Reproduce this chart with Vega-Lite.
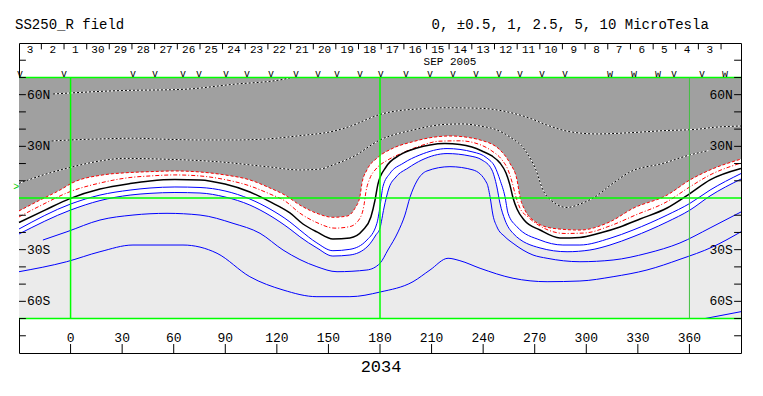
{
 "$schema": "https://vega.github.io/schema/vega-lite/v6.json",
 "width": 722, "height": 310,
 "autosize": {"type": "none"},
 "padding": {"left": 19, "top": 43, "right": 22, "bottom": 43},
 "background": "white",
 "config": {"view": {"stroke": "black", "strokeWidth": 1}, "text": {"font": "Liberation Mono", "color": "black"}},
 "datasets": {
  "plotbox": [{"lon": -30, "lon2": 390, "lat": -70, "lat2": 70}],
  "contours": [
   {"line":"B0","kind":"zero","lon":-30,"lat":-14.2},{"line":"B0","kind":"zero","lon":-14.9,"lat":-7.0},{"line":"B0","kind":"zero","lon":0,"lat":-0.2},{"line":"B0","kind":"zero","lon":17.1,"lat":5.2},{"line":"B0","kind":"zero","lon":34.6,"lat":8.4},{"line":"B0","kind":"zero","lon":46.2,"lat":9.9},{"line":"B0","kind":"zero","lon":60.7,"lat":10.7},{"line":"B0","kind":"zero","lon":75.3,"lat":10.5},{"line":"B0","kind":"zero","lon":89.8,"lat":8.1},{"line":"B0","kind":"zero","lon":104.3,"lat":3.5},{"line":"B0","kind":"zero","lon":114.2,"lat":-1.2},{"line":"B0","kind":"zero","lon":121.8,"lat":-5.2},{"line":"B0","kind":"zero","lon":127.6,"lat":-8.7},{"line":"B0","kind":"zero","lon":135.2,"lat":-15.1},{"line":"B0","kind":"zero","lon":143.3,"lat":-19.7},{"line":"B0","kind":"zero","lon":152.6,"lat":-23.8},{"line":"B0","kind":"zero","lon":162.5,"lat":-23.2},{"line":"B0","kind":"zero","lon":170.1,"lat":-18.6},{"line":"B0","kind":"zero","lon":174.7,"lat":-11.0},{"line":"B0","kind":"zero","lon":177.1,"lat":-1.2},{"line":"B0","kind":"zero","lon":178.8,"lat":8.1},{"line":"B0","kind":"zero","lon":183.5,"lat":18.0},{"line":"B0","kind":"zero","lon":191.6,"lat":25.0},{"line":"B0","kind":"zero","lon":201.5,"lat":29.0},{"line":"B0","kind":"zero","lon":209.1,"lat":30.8},{"line":"B0","kind":"zero","lon":217.8,"lat":31.6},{"line":"B0","kind":"zero","lon":226.5,"lat":31.1},{"line":"B0","kind":"zero","lon":233.5,"lat":29.6},{"line":"B0","kind":"zero","lon":239.3,"lat":27.3},{"line":"B0","kind":"zero","lon":245.1,"lat":24.4},{"line":"B0","kind":"zero","lon":249.8,"lat":20.3},{"line":"B0","kind":"zero","lon":253.3,"lat":14.5},{"line":"B0","kind":"zero","lon":255.6,"lat":7.5},{"line":"B0","kind":"zero","lon":257.4,"lat":0},{"line":"B0","kind":"zero","lon":259.7,"lat":-6.4},{"line":"B0","kind":"zero","lon":263.8,"lat":-12.8},{"line":"B0","kind":"zero","lon":273.1,"lat":-18.6},{"line":"B0","kind":"zero","lon":284.7,"lat":-23.2},{"line":"B0","kind":"zero","lon":296.3,"lat":-22.9},{"line":"B0","kind":"zero","lon":308.0,"lat":-20.3},{"line":"B0","kind":"zero","lon":319.6,"lat":-16.8},{"line":"B0","kind":"zero","lon":331.3,"lat":-12.2},{"line":"B0","kind":"zero","lon":347.0,"lat":-5.8},{"line":"B0","kind":"zero","lon":360.3,"lat":2.6},{"line":"B0","kind":"zero","lon":372.0,"lat":10.5},{"line":"B0","kind":"zero","lon":390,"lat":17.1},
   {"line":"R1","kind":"r1","lon":-30,"lat":-7.5},{"line":"R1","kind":"r1","lon":-17.8,"lat":-1.2},{"line":"R1","kind":"r1","lon":-6.2,"lat":4.6},{"line":"R1","kind":"r1","lon":1.4,"lat":9.0},{"line":"R1","kind":"r1","lon":18.8,"lat":13.4},{"line":"R1","kind":"r1","lon":32.8,"lat":14.7},{"line":"R1","kind":"r1","lon":46.2,"lat":15.3},{"line":"R1","kind":"r1","lon":60.7,"lat":15.7},{"line":"R1","kind":"r1","lon":75.3,"lat":15.1},{"line":"R1","kind":"r1","lon":89.8,"lat":13.4},{"line":"R1","kind":"r1","lon":104.3,"lat":10.5},{"line":"R1","kind":"r1","lon":116.0,"lat":5.8},{"line":"R1","kind":"r1","lon":124.7,"lat":1.7},{"line":"R1","kind":"r1","lon":133.4,"lat":-4.1},{"line":"R1","kind":"r1","lon":143.3,"lat":-8.9},{"line":"R1","kind":"r1","lon":152.6,"lat":-11.2},{"line":"R1","kind":"r1","lon":160.8,"lat":-10.5},{"line":"R1","kind":"r1","lon":165.4,"lat":-6.0},{"line":"R1","kind":"r1","lon":168.3,"lat":0.8},{"line":"R1","kind":"r1","lon":169.5,"lat":8.5},{"line":"R1","kind":"r1","lon":172.4,"lat":16.3},{"line":"R1","kind":"r1","lon":178.2,"lat":23.1},{"line":"R1","kind":"r1","lon":187.5,"lat":28.9},{"line":"R1","kind":"r1","lon":199.2,"lat":32.7},{"line":"R1","kind":"r1","lon":209.1,"lat":35.0},{"line":"R1","kind":"r1","lon":220.7,"lat":36.0},{"line":"R1","kind":"r1","lon":232.3,"lat":35.0},{"line":"R1","kind":"r1","lon":238.2,"lat":33.7},{"line":"R1","kind":"r1","lon":249.8,"lat":27.9},{"line":"R1","kind":"r1","lon":255.6,"lat":20.1},{"line":"R1","kind":"r1","lon":259.7,"lat":10.5},{"line":"R1","kind":"r1","lon":261.4,"lat":0.8},{"line":"R1","kind":"r1","lon":264.3,"lat":-7.0},{"line":"R1","kind":"r1","lon":269.0,"lat":-12.8},{"line":"R1","kind":"r1","lon":280.6,"lat":-17.6},{"line":"R1","kind":"r1","lon":296.3,"lat":-18.6},{"line":"R1","kind":"r1","lon":313.8,"lat":-13.8},{"line":"R1","kind":"r1","lon":327.2,"lat":-6.0},{"line":"R1","kind":"r1","lon":347.0,"lat":1.7},{"line":"R1","kind":"r1","lon":360.3,"lat":10.5},{"line":"R1","kind":"r1","lon":372.0,"lat":16.3},{"line":"R1","kind":"r1","lon":390,"lat":22.6},
   {"line":"R05","kind":"r05","lon":-30,"lat":-11.0},{"line":"R05","kind":"r05","lon":-17.8,"lat":-4.6},{"line":"R05","kind":"r05","lon":0,"lat":3.8},{"line":"R05","kind":"r05","lon":17.1,"lat":8.7},{"line":"R05","kind":"r05","lon":34.6,"lat":11.9},{"line":"R05","kind":"r05","lon":46.2,"lat":12.8},{"line":"R05","kind":"r05","lon":60.7,"lat":13.4},{"line":"R05","kind":"r05","lon":75.3,"lat":12.8},{"line":"R05","kind":"r05","lon":89.8,"lat":10.7},{"line":"R05","kind":"r05","lon":104.3,"lat":7.0},{"line":"R05","kind":"r05","lon":116.0,"lat":2.3},{"line":"R05","kind":"r05","lon":124.7,"lat":-1.7},{"line":"R05","kind":"r05","lon":133.4,"lat":-8.8},{"line":"R05","kind":"r05","lon":143.3,"lat":-14.3},{"line":"R05","kind":"r05","lon":153.8,"lat":-17.5},{"line":"R05","kind":"r05","lon":162.5,"lat":-16.6},{"line":"R05","kind":"r05","lon":168.3,"lat":-11.8},{"line":"R05","kind":"r05","lon":170.7,"lat":-4.1},{"line":"R05","kind":"r05","lon":171.8,"lat":3.5},{"line":"R05","kind":"r05","lon":174.2,"lat":11.6},{"line":"R05","kind":"r05","lon":177.6,"lat":16.8},{"line":"R05","kind":"r05","lon":184.6,"lat":22.1},{"line":"R05","kind":"r05","lon":193.4,"lat":26.3},{"line":"R05","kind":"r05","lon":203.2,"lat":30.2},{"line":"R05","kind":"r05","lon":214.9,"lat":33.0},{"line":"R05","kind":"r05","lon":226.5,"lat":33.2},{"line":"R05","kind":"r05","lon":237.0,"lat":31.4},{"line":"R05","kind":"r05","lon":245.1,"lat":27.3},{"line":"R05","kind":"r05","lon":251.0,"lat":22.1},{"line":"R05","kind":"r05","lon":254.5,"lat":16.3},{"line":"R05","kind":"r05","lon":256.8,"lat":9.3},{"line":"R05","kind":"r05","lon":259.1,"lat":0.6},{"line":"R05","kind":"r05","lon":261.4,"lat":-5.8},{"line":"R05","kind":"r05","lon":266.1,"lat":-11.0},{"line":"R05","kind":"r05","lon":276.0,"lat":-17.8},{"line":"R05","kind":"r05","lon":287.6,"lat":-20.6},{"line":"R05","kind":"r05","lon":299.3,"lat":-20.3},{"line":"R05","kind":"r05","lon":313.8,"lat":-16.2},{"line":"R05","kind":"r05","lon":328.4,"lat":-10.0},{"line":"R05","kind":"r05","lon":347.0,"lat":-2.1},{"line":"R05","kind":"r05","lon":360.3,"lat":6.5},{"line":"R05","kind":"r05","lon":372.0,"lat":13.4},{"line":"R05","kind":"r05","lon":390,"lat":20.3},
   {"line":"N05","kind":"neg","lon":-30,"lat":-18.0},{"line":"N05","kind":"neg","lon":0,"lat":-3.5},{"line":"N05","kind":"neg","lon":17.1,"lat":1.7},{"line":"N05","kind":"neg","lon":34.6,"lat":4.6},{"line":"N05","kind":"neg","lon":46.2,"lat":5.8},{"line":"N05","kind":"neg","lon":60.7,"lat":6.4},{"line":"N05","kind":"neg","lon":75.3,"lat":6.1},{"line":"N05","kind":"neg","lon":89.8,"lat":4.1},{"line":"N05","kind":"neg","lon":104.3,"lat":-0.6},{"line":"N05","kind":"neg","lon":116.0,"lat":-6.4},{"line":"N05","kind":"neg","lon":127.6,"lat":-13.9},{"line":"N05","kind":"neg","lon":133.4,"lat":-18.6},{"line":"N05","kind":"neg","lon":143.3,"lat":-26.1},{"line":"N05","kind":"neg","lon":152.6,"lat":-30.6},{"line":"N05","kind":"neg","lon":162.5,"lat":-29.8},{"line":"N05","kind":"neg","lon":172.4,"lat":-24.4},{"line":"N05","kind":"neg","lon":178.2,"lat":-14.7},{"line":"N05","kind":"neg","lon":180.0,"lat":-5.1},{"line":"N05","kind":"neg","lon":181.7,"lat":6.6},{"line":"N05","kind":"neg","lon":185.8,"lat":14.3},{"line":"N05","kind":"neg","lon":193.4,"lat":20.1},{"line":"N05","kind":"neg","lon":203.2,"lat":25.0},{"line":"N05","kind":"neg","lon":219.0,"lat":28.7},{"line":"N05","kind":"neg","lon":234.1,"lat":26.7},{"line":"N05","kind":"neg","lon":242.2,"lat":23.2},{"line":"N05","kind":"neg","lon":246.9,"lat":18.0},{"line":"N05","kind":"neg","lon":249.8,"lat":10.5},{"line":"N05","kind":"neg","lon":252.7,"lat":0.8},{"line":"N05","kind":"neg","lon":254.5,"lat":-8.9},{"line":"N05","kind":"neg","lon":259.7,"lat":-16.7},{"line":"N05","kind":"neg","lon":273.1,"lat":-24.4},{"line":"N05","kind":"neg","lon":286.4,"lat":-27.3},{"line":"N05","kind":"neg","lon":296.3,"lat":-27.3},{"line":"N05","kind":"neg","lon":313.8,"lat":-23.4},{"line":"N05","kind":"neg","lon":327.2,"lat":-18.6},{"line":"N05","kind":"neg","lon":347.0,"lat":-9.9},{"line":"N05","kind":"neg","lon":360.3,"lat":-3.1},{"line":"N05","kind":"neg","lon":372.0,"lat":4.6},{"line":"N05","kind":"neg","lon":390,"lat":14.2},
   {"line":"N1","kind":"neg","lon":-30,"lat":-20.9},{"line":"N1","kind":"neg","lon":0,"lat":-7.0},{"line":"N1","kind":"neg","lon":17.1,"lat":-1.5},{"line":"N1","kind":"neg","lon":34.6,"lat":1.7},{"line":"N1","kind":"neg","lon":46.2,"lat":2.7},{"line":"N1","kind":"neg","lon":60.7,"lat":3.2},{"line":"N1","kind":"neg","lon":75.3,"lat":2.9},{"line":"N1","kind":"neg","lon":89.8,"lat":0.6},{"line":"N1","kind":"neg","lon":104.3,"lat":-4.1},{"line":"N1","kind":"neg","lon":116.0,"lat":-10.2},{"line":"N1","kind":"neg","lon":127.6,"lat":-18.0},{"line":"N1","kind":"neg","lon":133.4,"lat":-22.5},{"line":"N1","kind":"neg","lon":143.3,"lat":-29.0},{"line":"N1","kind":"neg","lon":152.6,"lat":-33.7},{"line":"N1","kind":"neg","lon":162.5,"lat":-33.1},{"line":"N1","kind":"neg","lon":173.0,"lat":-27.9},{"line":"N1","kind":"neg","lon":177.6,"lat":-21.5},{"line":"N1","kind":"neg","lon":180.0,"lat":-17.4},{"line":"N1","kind":"neg","lon":182.3,"lat":-5.8},{"line":"N1","kind":"neg","lon":185.2,"lat":5.8},{"line":"N1","kind":"neg","lon":189.3,"lat":12.2},{"line":"N1","kind":"neg","lon":196.3,"lat":17.4},{"line":"N1","kind":"neg","lon":204.4,"lat":22.1},{"line":"N1","kind":"neg","lon":219.0,"lat":25.8},{"line":"N1","kind":"neg","lon":232.3,"lat":24.4},{"line":"N1","kind":"neg","lon":239.3,"lat":22.1},{"line":"N1","kind":"neg","lon":245.1,"lat":16.3},{"line":"N1","kind":"neg","lon":248.0,"lat":6.4},{"line":"N1","kind":"neg","lon":249.8,"lat":-3.1},{"line":"N1","kind":"neg","lon":252.7,"lat":-12.8},{"line":"N1","kind":"neg","lon":257.4,"lat":-20.5},{"line":"N1","kind":"neg","lon":273.1,"lat":-29.0},{"line":"N1","kind":"neg","lon":288.8,"lat":-31.2},{"line":"N1","kind":"neg","lon":302.1,"lat":-30.2},{"line":"N1","kind":"neg","lon":313.8,"lat":-27.3},{"line":"N1","kind":"neg","lon":327.2,"lat":-22.5},{"line":"N1","kind":"neg","lon":347.0,"lat":-13.9},{"line":"N1","kind":"neg","lon":360.3,"lat":-7.0},{"line":"N1","kind":"neg","lon":372.0,"lat":1.2},{"line":"N1","kind":"neg","lon":390,"lat":11.0},
   {"line":"A","kind":"neg","lon":-16.1,"lat":-24.4},{"line":"A","kind":"neg","lon":-2.1,"lat":-19.6},{"line":"A","kind":"neg","lon":17.1,"lat":-12.8},{"line":"A","kind":"neg","lon":36.3,"lat":-9.9},{"line":"A","kind":"neg","lon":56.1,"lat":-8.9},{"line":"A","kind":"neg","lon":75.3,"lat":-9.9},{"line":"A","kind":"neg","lon":94.5,"lat":-14.7},{"line":"A","kind":"neg","lon":110.2,"lat":-20.5},{"line":"A","kind":"neg","lon":123.6,"lat":-30.2},{"line":"A","kind":"neg","lon":143.3,"lat":-39.9},{"line":"A","kind":"neg","lon":155.0,"lat":-42.8},{"line":"A","kind":"neg","lon":172.4,"lat":-41.8},{"line":"A","kind":"neg","lon":180.0,"lat":-37.9},{"line":"A","kind":"neg","lon":184.6,"lat":-30.2},{"line":"A","kind":"neg","lon":190.5,"lat":-19.7},{"line":"A","kind":"neg","lon":194.5,"lat":-9.9},{"line":"A","kind":"neg","lon":197.5,"lat":0.6},{"line":"A","kind":"neg","lon":201.5,"lat":9.9},{"line":"A","kind":"neg","lon":207.3,"lat":15.7},{"line":"A","kind":"neg","lon":220.7,"lat":18.2},{"line":"A","kind":"neg","lon":234.1,"lat":16.3},{"line":"A","kind":"neg","lon":242.2,"lat":8.5},{"line":"A","kind":"neg","lon":244.0,"lat":0.8},{"line":"A","kind":"neg","lon":245.7,"lat":-9.9},{"line":"A","kind":"neg","lon":248.0,"lat":-16.7},{"line":"A","kind":"neg","lon":252.7,"lat":-22.5},{"line":"A","kind":"neg","lon":257.4,"lat":-26.3},{"line":"A","kind":"neg","lon":269.0,"lat":-33.1},{"line":"A","kind":"neg","lon":277.2,"lat":-35.0},{"line":"A","kind":"neg","lon":296.3,"lat":-37.0},{"line":"A","kind":"neg","lon":315.6,"lat":-36.0},{"line":"A","kind":"neg","lon":335.3,"lat":-32.1},{"line":"A","kind":"neg","lon":354.5,"lat":-26.1},{"line":"A","kind":"neg","lon":372.0,"lat":-17.4},{"line":"A","kind":"neg","lon":390,"lat":-8.1},
   {"line":"L","kind":"neg","lon":-30,"lat":-42.8},{"line":"L","kind":"neg","lon":-2.3,"lat":-37.0},{"line":"L","kind":"neg","lon":17.1,"lat":-31.2},{"line":"L","kind":"neg","lon":36.3,"lat":-27.3},{"line":"L","kind":"neg","lon":65.4,"lat":-27.3},{"line":"L","kind":"neg","lon":85.2,"lat":-32.1},{"line":"L","kind":"neg","lon":104.3,"lat":-45.7},{"line":"L","kind":"neg","lon":123.6,"lat":-53.4},{"line":"L","kind":"neg","lon":143.3,"lat":-57.3},{"line":"L","kind":"neg","lon":162.5,"lat":-57.3},{"line":"L","kind":"neg","lon":180.0,"lat":-54.6},{"line":"L","kind":"neg","lon":199.2,"lat":-48.6},{"line":"L","kind":"neg","lon":209.1,"lat":-41.8},{"line":"L","kind":"neg","lon":219.6,"lat":-35.0},{"line":"L","kind":"neg","lon":226.5,"lat":-36.4},{"line":"L","kind":"neg","lon":238.2,"lat":-40.8},{"line":"L","kind":"neg","lon":257.4,"lat":-46.6},{"line":"L","kind":"neg","lon":277.2,"lat":-48.6},{"line":"L","kind":"neg","lon":296.3,"lat":-48.2},{"line":"L","kind":"neg","lon":315.6,"lat":-45.7},{"line":"L","kind":"neg","lon":335.3,"lat":-41.8},{"line":"L","kind":"neg","lon":354.5,"lat":-35.6},{"line":"L","kind":"neg","lon":373.7,"lat":-28.3},{"line":"L","kind":"neg","lon":390,"lat":-19.6},
   {"line":"BR","kind":"neg","lon":369.0,"lat":-70},{"line":"BR","kind":"neg","lon":390,"lat":-66.0},
   {"line":"P25","kind":"pos","lon":-30,"lat":8.5},{"line":"P25","kind":"pos","lon":-17.8,"lat":12.8},{"line":"P25","kind":"pos","lon":0,"lat":17.8},{"line":"P25","kind":"pos","lon":17.1,"lat":21.5},{"line":"P25","kind":"pos","lon":30.5,"lat":23.0},{"line":"P25","kind":"pos","lon":56.1,"lat":22.5},{"line":"P25","kind":"pos","lon":85.2,"lat":21.1},{"line":"P25","kind":"pos","lon":114.2,"lat":18.2},{"line":"P25","kind":"pos","lon":133.4,"lat":16.3},{"line":"P25","kind":"pos","lon":145.1,"lat":16.8},{"line":"P25","kind":"pos","lon":152.6,"lat":19.2},{"line":"P25","kind":"pos","lon":164.3,"lat":24.0},{"line":"P25","kind":"pos","lon":180.0,"lat":33.7},{"line":"P25","kind":"pos","lon":199.2,"lat":39.5},{"line":"P25","kind":"pos","lon":218.8,"lat":42.8},{"line":"P25","kind":"pos","lon":228.3,"lat":43.0},{"line":"P25","kind":"pos","lon":238.2,"lat":41.8},{"line":"P25","kind":"pos","lon":248.0,"lat":39.5},{"line":"P25","kind":"pos","lon":255.6,"lat":35.4},{"line":"P25","kind":"pos","lon":264.3,"lat":27.9},{"line":"P25","kind":"pos","lon":270.7,"lat":16.3},{"line":"P25","kind":"pos","lon":274.8,"lat":4.6},{"line":"P25","kind":"pos","lon":280.0,"lat":-1.7},{"line":"P25","kind":"pos","lon":288.8,"lat":-5.5},{"line":"P25","kind":"pos","lon":296.3,"lat":-3.5},{"line":"P25","kind":"pos","lon":305.0,"lat":0.6},{"line":"P25","kind":"pos","lon":314.9,"lat":8.1},{"line":"P25","kind":"pos","lon":325.4,"lat":15.1},{"line":"P25","kind":"pos","lon":344.6,"lat":20.1},{"line":"P25","kind":"pos","lon":360.3,"lat":25.0},{"line":"P25","kind":"pos","lon":371.0,"lat":27.5},
   {"line":"P5","kind":"pos","lon":-11.0,"lat":33.1},{"line":"P5","kind":"pos","lon":0,"lat":33.7},{"line":"P5","kind":"pos","lon":17.1,"lat":34.3},{"line":"P5","kind":"pos","lon":36.5,"lat":34.7},{"line":"P5","kind":"pos","lon":55.9,"lat":34.1},{"line":"P5","kind":"pos","lon":75.3,"lat":33.7},{"line":"P5","kind":"pos","lon":94.6,"lat":33.7},{"line":"P5","kind":"pos","lon":114.1,"lat":34.3},{"line":"P5","kind":"pos","lon":133.4,"lat":36.2},{"line":"P5","kind":"pos","lon":152.8,"lat":38.8},{"line":"P5","kind":"pos","lon":165.0,"lat":42.5},{"line":"P5","kind":"pos","lon":172.2,"lat":45.6},{"line":"P5","kind":"pos","lon":180.0,"lat":48.5},{"line":"P5","kind":"pos","lon":190.0,"lat":50.6},{"line":"P5","kind":"pos","lon":199.3,"lat":51.5},{"line":"P5","kind":"pos","lon":218.8,"lat":52.4},{"line":"P5","kind":"pos","lon":238.2,"lat":52.1},{"line":"P5","kind":"pos","lon":257.5,"lat":49.2},{"line":"P5","kind":"pos","lon":267.2,"lat":46.3},{"line":"P5","kind":"pos","lon":277.0,"lat":42.4},{"line":"P5","kind":"pos","lon":290.5,"lat":38.5},{"line":"P5","kind":"pos","lon":306.0,"lat":37.2},{"line":"P5","kind":"pos","lon":325.4,"lat":37.9},{"line":"P5","kind":"pos","lon":344.8,"lat":39.1},{"line":"P5","kind":"pos","lon":364.2,"lat":39.9},{"line":"P5","kind":"pos","lon":373.9,"lat":41.0},{"line":"P5","kind":"pos","lon":390,"lat":41.8},
   {"line":"P10","kind":"pos","lon":-10.2,"lat":60.4},{"line":"P10","kind":"pos","lon":27.0,"lat":62.3},{"line":"P10","kind":"pos","lon":65.4,"lat":63.1},{"line":"P10","kind":"pos","lon":94.5,"lat":66.0},{"line":"P10","kind":"pos","lon":123.6,"lat":68.9},{"line":"P10","kind":"pos","lon":128.8,"lat":70.0}
  ],
  "rules": [
   {"kind":"green","lon":0,"lon2":0,"lat":-70,"lat2":70},{"kind":"green","lon":180,"lon2":180,"lat":-70,"lat2":70},
   {"kind":"green","lon":-30,"lon2":390,"lat":0,"lat2":0},{"kind":"green","lon":-30,"lon2":390,"lat":70,"lat2":70},{"kind":"green","lon":-30,"lon2":390,"lat":-70,"lat2":-70},
   {"kind":"green2","lon":360,"lon2":360,"lat":-70,"lat2":70},
   {"kind":"tick","lon":-30,"lon2":-26,"lat":-80,"lat2":-80},{"kind":"tick","lon":-30,"lon2":-26,"lat":-70,"lat2":-70},{"kind":"tick","lon":-30,"lon2":-26,"lat":-60,"lat2":-60},{"kind":"tick","lon":-30,"lon2":-26,"lat":-50,"lat2":-50},{"kind":"tick","lon":-30,"lon2":-26,"lat":-40,"lat2":-40},{"kind":"tick","lon":-30,"lon2":-26,"lat":-30,"lat2":-30},{"kind":"tick","lon":-30,"lon2":-26,"lat":-20,"lat2":-20},{"kind":"tick","lon":-30,"lon2":-26,"lat":-10,"lat2":-10},{"kind":"tick","lon":-30,"lon2":-26,"lat":10,"lat2":10},{"kind":"tick","lon":-30,"lon2":-26,"lat":20,"lat2":20},{"kind":"tick","lon":-30,"lon2":-26,"lat":30,"lat2":30},{"kind":"tick","lon":-30,"lon2":-26,"lat":40,"lat2":40},{"kind":"tick","lon":-30,"lon2":-26,"lat":50,"lat2":50},{"kind":"tick","lon":-30,"lon2":-26,"lat":60,"lat2":60},{"kind":"tick","lon":-30,"lon2":-26,"lat":70,"lat2":70},{"kind":"tick","lon":-30,"lon2":-26,"lat":80,"lat2":80},
   {"kind":"tick","lon":386,"lon2":390,"lat":-80,"lat2":-80},{"kind":"tick","lon":386,"lon2":390,"lat":-70,"lat2":-70},{"kind":"tick","lon":386,"lon2":390,"lat":-60,"lat2":-60},{"kind":"tick","lon":386,"lon2":390,"lat":-50,"lat2":-50},{"kind":"tick","lon":386,"lon2":390,"lat":-40,"lat2":-40},{"kind":"tick","lon":386,"lon2":390,"lat":-30,"lat2":-30},{"kind":"tick","lon":386,"lon2":390,"lat":-20,"lat2":-20},{"kind":"tick","lon":386,"lon2":390,"lat":-10,"lat2":-10},{"kind":"tick","lon":386,"lon2":390,"lat":10,"lat2":10},{"kind":"tick","lon":386,"lon2":390,"lat":20,"lat2":20},{"kind":"tick","lon":386,"lon2":390,"lat":30,"lat2":30},{"kind":"tick","lon":386,"lon2":390,"lat":40,"lat2":40},{"kind":"tick","lon":386,"lon2":390,"lat":50,"lat2":50},{"kind":"tick","lon":386,"lon2":390,"lat":60,"lat2":60},{"kind":"tick","lon":386,"lon2":390,"lat":70,"lat2":70},{"kind":"tick","lon":386,"lon2":390,"lat":80,"lat2":80},
   {"kind":"tick","lon":0,"lon2":0,"lat":-90,"lat2":-84.8},{"kind":"tick","lon":30,"lon2":30,"lat":-90,"lat2":-84.8},{"kind":"tick","lon":60,"lon2":60,"lat":-90,"lat2":-84.8},{"kind":"tick","lon":90,"lon2":90,"lat":-90,"lat2":-84.8},{"kind":"tick","lon":120,"lon2":120,"lat":-90,"lat2":-84.8},{"kind":"tick","lon":150,"lon2":150,"lat":-90,"lat2":-84.8},{"kind":"tick","lon":180,"lon2":180,"lat":-90,"lat2":-84.8},{"kind":"tick","lon":210,"lon2":210,"lat":-90,"lat2":-84.8},{"kind":"tick","lon":240,"lon2":240,"lat":-90,"lat2":-84.8},{"kind":"tick","lon":270,"lon2":270,"lat":-90,"lat2":-84.8},{"kind":"tick","lon":300,"lon2":300,"lat":-90,"lat2":-84.8},{"kind":"tick","lon":330,"lon2":330,"lat":-90,"lat2":-84.8},{"kind":"tick","lon":360,"lon2":360,"lat":-90,"lat2":-84.8},
   {"kind":"tick","lon":-17.0,"lon2":-17.0,"lat":90,"lat2":86.3},{"kind":"tick","lon":-3.8,"lon2":-3.8,"lat":90,"lat2":86.3},{"kind":"tick","lon":9.4,"lon2":9.4,"lat":90,"lat2":86.3},{"kind":"tick","lon":22.5,"lon2":22.5,"lat":90,"lat2":86.3},{"kind":"tick","lon":35.7,"lon2":35.7,"lat":90,"lat2":86.3},{"kind":"tick","lon":48.9,"lon2":48.9,"lat":90,"lat2":86.3},{"kind":"tick","lon":62.1,"lon2":62.1,"lat":90,"lat2":86.3},{"kind":"tick","lon":75.3,"lon2":75.3,"lat":90,"lat2":86.3},{"kind":"tick","lon":88.4,"lon2":88.4,"lat":90,"lat2":86.3},{"kind":"tick","lon":101.6,"lon2":101.6,"lat":90,"lat2":86.3},{"kind":"tick","lon":114.8,"lon2":114.8,"lat":90,"lat2":86.3},{"kind":"tick","lon":128.0,"lon2":128.0,"lat":90,"lat2":86.3},{"kind":"tick","lon":141.2,"lon2":141.2,"lat":90,"lat2":86.3},{"kind":"tick","lon":154.3,"lon2":154.3,"lat":90,"lat2":86.3},{"kind":"tick","lon":167.5,"lon2":167.5,"lat":90,"lat2":86.3},{"kind":"tick","lon":180.7,"lon2":180.7,"lat":90,"lat2":86.3},{"kind":"tick","lon":193.9,"lon2":193.9,"lat":90,"lat2":86.3},{"kind":"tick","lon":207.1,"lon2":207.1,"lat":90,"lat2":86.3},{"kind":"tick","lon":220.2,"lon2":220.2,"lat":90,"lat2":86.3},{"kind":"tick","lon":233.4,"lon2":233.4,"lat":90,"lat2":86.3},{"kind":"tick","lon":246.6,"lon2":246.6,"lat":90,"lat2":86.3},{"kind":"tick","lon":259.8,"lon2":259.8,"lat":90,"lat2":86.3},{"kind":"tick","lon":273.0,"lon2":273.0,"lat":90,"lat2":86.3},{"kind":"tick","lon":286.1,"lon2":286.1,"lat":90,"lat2":86.3},{"kind":"tick","lon":299.3,"lon2":299.3,"lat":90,"lat2":86.3},{"kind":"tick","lon":312.5,"lon2":312.5,"lat":90,"lat2":86.3},{"kind":"tick","lon":325.7,"lon2":325.7,"lat":90,"lat2":86.3},{"kind":"tick","lon":338.9,"lon2":338.9,"lat":90,"lat2":86.3},{"kind":"tick","lon":352.0,"lon2":352.0,"lat":90,"lat2":86.3},{"kind":"tick","lon":365.2,"lon2":365.2,"lat":90,"lat2":86.3},{"kind":"tick","lon":378.4,"lon2":378.4,"lat":90,"lat2":86.3}
  ],
  "labels": [
   {"kind":"latL","lon":-25.4,"lat":60,"text":"60N"},{"kind":"latL","lon":-25.4,"lat":30,"text":"30N"},{"kind":"latL","lon":-25.4,"lat":-30,"text":"30S"},{"kind":"latL","lon":-25.4,"lat":-60,"text":"60S"},
   {"kind":"latR","lon":385.3,"lat":60,"text":"60N"},{"kind":"latR","lon":385.3,"lat":30,"text":"30N"},{"kind":"latR","lon":385.3,"lat":-30,"text":"30S"},{"kind":"latR","lon":385.3,"lat":-60,"text":"60S"},
   {"kind":"lonlab","lon":0,"lat":-81,"text":"0"},{"kind":"lonlab","lon":30,"lat":-81,"text":"30"},{"kind":"lonlab","lon":60,"lat":-81,"text":"60"},{"kind":"lonlab","lon":90,"lat":-81,"text":"90"},{"kind":"lonlab","lon":120,"lat":-81,"text":"120"},{"kind":"lonlab","lon":150,"lat":-81,"text":"150"},{"kind":"lonlab","lon":180,"lat":-81,"text":"180"},{"kind":"lonlab","lon":210,"lat":-81,"text":"210"},{"kind":"lonlab","lon":240,"lat":-81,"text":"240"},{"kind":"lonlab","lon":270,"lat":-81,"text":"270"},{"kind":"lonlab","lon":300,"lat":-81,"text":"300"},{"kind":"lonlab","lon":330,"lat":-81,"text":"330"},{"kind":"lonlab","lon":360,"lat":-81,"text":"360"},
   {"kind":"day","lon":-23.6,"lat":86.0,"text":"3"},{"kind":"day","lon":-10.4,"lat":86.0,"text":"2"},{"kind":"day","lon":2.8,"lat":86.0,"text":"1"},{"kind":"day","lon":15.9,"lat":86.0,"text":"30"},{"kind":"day","lon":29.1,"lat":86.0,"text":"29"},{"kind":"day","lon":42.3,"lat":86.0,"text":"28"},{"kind":"day","lon":55.5,"lat":86.0,"text":"27"},{"kind":"day","lon":68.7,"lat":86.0,"text":"26"},{"kind":"day","lon":81.8,"lat":86.0,"text":"25"},{"kind":"day","lon":95.0,"lat":86.0,"text":"24"},{"kind":"day","lon":108.2,"lat":86.0,"text":"23"},{"kind":"day","lon":121.4,"lat":86.0,"text":"22"},{"kind":"day","lon":134.6,"lat":86.0,"text":"21"},{"kind":"day","lon":147.7,"lat":86.0,"text":"20"},{"kind":"day","lon":160.9,"lat":86.0,"text":"19"},{"kind":"day","lon":174.1,"lat":86.0,"text":"18"},{"kind":"day","lon":187.3,"lat":86.0,"text":"17"},{"kind":"day","lon":200.5,"lat":86.0,"text":"16"},{"kind":"day","lon":213.6,"lat":86.0,"text":"15"},{"kind":"day","lon":226.8,"lat":86.0,"text":"14"},{"kind":"day","lon":240.0,"lat":86.0,"text":"13"},{"kind":"day","lon":253.2,"lat":86.0,"text":"12"},{"kind":"day","lon":266.4,"lat":86.0,"text":"11"},{"kind":"day","lon":279.5,"lat":86.0,"text":"10"},{"kind":"day","lon":292.7,"lat":86.0,"text":"9"},{"kind":"day","lon":305.9,"lat":86.0,"text":"8"},{"kind":"day","lon":319.1,"lat":86.0,"text":"7"},{"kind":"day","lon":332.3,"lat":86.0,"text":"6"},{"kind":"day","lon":345.4,"lat":86.0,"text":"5"},{"kind":"day","lon":358.6,"lat":86.0,"text":"4"},{"kind":"day","lon":371.8,"lat":86.0,"text":"3"},
   {"kind":"obs","lon":-29.4,"lat":70.3,"text":"v"},{"kind":"obs","lon":-3.8,"lat":70.3,"text":"v"},{"kind":"obs","lon":36.3,"lat":70.3,"text":"v"},{"kind":"obs","lon":49.1,"lat":70.3,"text":"v"},{"kind":"obs","lon":65.4,"lat":70.3,"text":"v"},{"kind":"obs","lon":74.7,"lat":70.3,"text":"v"},{"kind":"obs","lon":90.4,"lat":70.3,"text":"v"},{"kind":"obs","lon":102.6,"lat":70.3,"text":"v"},{"kind":"obs","lon":116.6,"lat":70.3,"text":"v"},{"kind":"obs","lon":131.1,"lat":70.3,"text":"v"},{"kind":"obs","lon":143.9,"lat":70.3,"text":"v"},{"kind":"obs","lon":155.0,"lat":70.3,"text":"v"},{"kind":"obs","lon":168.3,"lat":70.3,"text":"v"},{"kind":"obs","lon":180.5,"lat":70.3,"text":"v"},{"kind":"obs","lon":195.1,"lat":70.3,"text":"v"},{"kind":"obs","lon":209.1,"lat":70.3,"text":"v"},{"kind":"obs","lon":222.4,"lat":70.3,"text":"v"},{"kind":"obs","lon":235.8,"lat":70.3,"text":"v"},{"kind":"obs","lon":249.2,"lat":70.3,"text":"v"},{"kind":"obs","lon":261.4,"lat":70.3,"text":"v"},{"kind":"obs","lon":274.2,"lat":70.3,"text":"v"},{"kind":"obs","lon":287.6,"lat":70.3,"text":"v"},{"kind":"obs","lon":313.8,"lat":70.3,"text":"w"},{"kind":"obs","lon":327.8,"lat":70.3,"text":"w"},{"kind":"obs","lon":341.7,"lat":70.3,"text":"w"},{"kind":"obs","lon":351.0,"lat":70.3,"text":"v"},{"kind":"obs","lon":367.3,"lat":70.3,"text":"v"},{"kind":"obs","lon":380.7,"lat":70.3,"text":"w"},
   {"kind":"title","lon":-32.3,"lat":100.4,"text":"SS250_R field"},{"kind":"title","lon":210.0,"lat":100.4,"text":"0, ±0.5, 1, 2.5, 5, 10 MicroTesla"},
   {"kind":"month","lon":220.7,"lat":78.9,"text":"SEP 2005"},
   {"kind":"year","lon":180.6,"lat":-98.1,"text":"2034"},
   {"kind":"gmark","lon":-31.6,"lat":6.4,"text":">"}
  ]
 },
 "encoding": {
  "x": {"field": "lon", "type": "quantitative", "scale": {"domain": [-30, 390], "nice": false, "zero": false}, "axis": null},
  "y": {"field": "lat", "type": "quantitative", "scale": {"domain": [-90, 90], "nice": false, "zero": false}, "axis": null}
 },
 "layer": [
  {"data": {"name": "plotbox"}, "mark": {"type": "rect", "fill": "#ebebeb"}, "encoding": {"x2": {"field": "lon2"}, "y2": {"field": "lat2"}}},
  {"data": {"name": "contours"}, "transform": [{"filter": "datum.line === 'N1'"}], "mark": {"type": "area", "fill": "white", "interpolate": "monotone"}, "encoding": {"y2": {"datum": 70}}},
  {"data": {"name": "contours"}, "transform": [{"filter": "datum.line === 'R1'"}], "mark": {"type": "area", "fill": "#a0a0a0", "interpolate": "monotone"}, "encoding": {"y2": {"datum": 70}}},
  {"data": {"name": "contours"}, "transform": [{"filter": "datum.kind === 'pos'"}], "mark": {"type": "line", "color": "white", "strokeWidth": 1, "interpolate": "monotone"}, "encoding": {"detail": {"field": "line"}}},
  {"data": {"name": "contours"}, "transform": [{"filter": "datum.kind === 'pos'"}], "mark": {"type": "line", "color": "black", "strokeWidth": 1, "strokeDash": [2, 2], "interpolate": "monotone"}, "encoding": {"detail": {"field": "line"}}},
  {"data": {"name": "contours"}, "transform": [{"filter": "datum.kind === 'r1'"}], "mark": {"type": "line", "color": "#ff0000", "strokeWidth": 1, "strokeDash": [3, 2], "interpolate": "monotone"}, "encoding": {"detail": {"field": "line"}}},
  {"data": {"name": "contours"}, "transform": [{"filter": "datum.kind === 'r05'"}], "mark": {"type": "line", "color": "#ff0000", "strokeWidth": 1, "strokeDash": [4, 2, 1, 2], "interpolate": "monotone"}, "encoding": {"detail": {"field": "line"}}},
  {"data": {"name": "contours"}, "transform": [{"filter": "datum.kind === 'neg'"}], "mark": {"type": "line", "color": "#0000ff", "strokeWidth": 1, "interpolate": "monotone"}, "encoding": {"detail": {"field": "line"}}},
  {"data": {"name": "contours"}, "transform": [{"filter": "datum.kind === 'zero'"}], "mark": {"type": "line", "color": "black", "strokeWidth": 1.5, "interpolate": "monotone"}, "encoding": {"detail": {"field": "line"}}},
  {"data": {"name": "rules"}, "transform": [{"filter": "datum.kind === 'green'"}], "mark": {"type": "rule", "color": "#00ff00", "strokeWidth": 1.5}, "encoding": {"x2": {"field": "lon2"}, "y2": {"field": "lat2"}}},
  {"data": {"name": "rules"}, "transform": [{"filter": "datum.kind === 'green2'"}], "mark": {"type": "rule", "color": "#40c040", "strokeWidth": 1}, "encoding": {"x2": {"field": "lon2"}, "y2": {"field": "lat2"}}},
  {"data": {"name": "rules"}, "transform": [{"filter": "datum.kind === 'tick'"}], "mark": {"type": "rule", "color": "black", "strokeWidth": 1}, "encoding": {"x2": {"field": "lon2"}, "y2": {"field": "lat2"}}},
  {"data": {"name": "labels"}, "transform": [{"filter": "datum.kind === 'latL'"}], "mark": {"type": "text", "align": "left", "baseline": "middle", "fontSize": 13}, "encoding": {"text": {"field": "text"}}},
  {"data": {"name": "labels"}, "transform": [{"filter": "datum.kind === 'latR'"}], "mark": {"type": "text", "align": "right", "baseline": "middle", "fontSize": 13}, "encoding": {"text": {"field": "text"}}},
  {"data": {"name": "labels"}, "transform": [{"filter": "datum.kind === 'lonlab'"}], "mark": {"type": "text", "align": "center", "baseline": "middle", "fontSize": 13}, "encoding": {"text": {"field": "text"}}},
  {"data": {"name": "labels"}, "transform": [{"filter": "datum.kind === 'day'"}], "mark": {"type": "text", "align": "center", "baseline": "middle", "fontSize": 11}, "encoding": {"text": {"field": "text"}}},
  {"data": {"name": "labels"}, "transform": [{"filter": "datum.kind === 'obs'"}], "mark": {"type": "text", "align": "center", "baseline": "alphabetic", "fontSize": 10}, "encoding": {"text": {"field": "text"}}},
  {"data": {"name": "labels"}, "transform": [{"filter": "datum.kind === 'title'"}], "mark": {"type": "text", "align": "left", "baseline": "middle", "fontSize": 14}, "encoding": {"text": {"field": "text"}}},
  {"data": {"name": "labels"}, "transform": [{"filter": "datum.kind === 'month'"}], "mark": {"type": "text", "align": "center", "baseline": "middle", "fontSize": 11}, "encoding": {"text": {"field": "text"}}},
  {"data": {"name": "labels"}, "transform": [{"filter": "datum.kind === 'year'"}], "mark": {"type": "text", "align": "center", "baseline": "middle", "fontSize": 17}, "encoding": {"text": {"field": "text"}}},
  {"data": {"name": "labels"}, "transform": [{"filter": "datum.kind === 'gmark'"}], "mark": {"type": "text", "align": "center", "baseline": "middle", "fontSize": 10, "color": "#00cc00"}, "encoding": {"text": {"field": "text"}}}
 ]
}
